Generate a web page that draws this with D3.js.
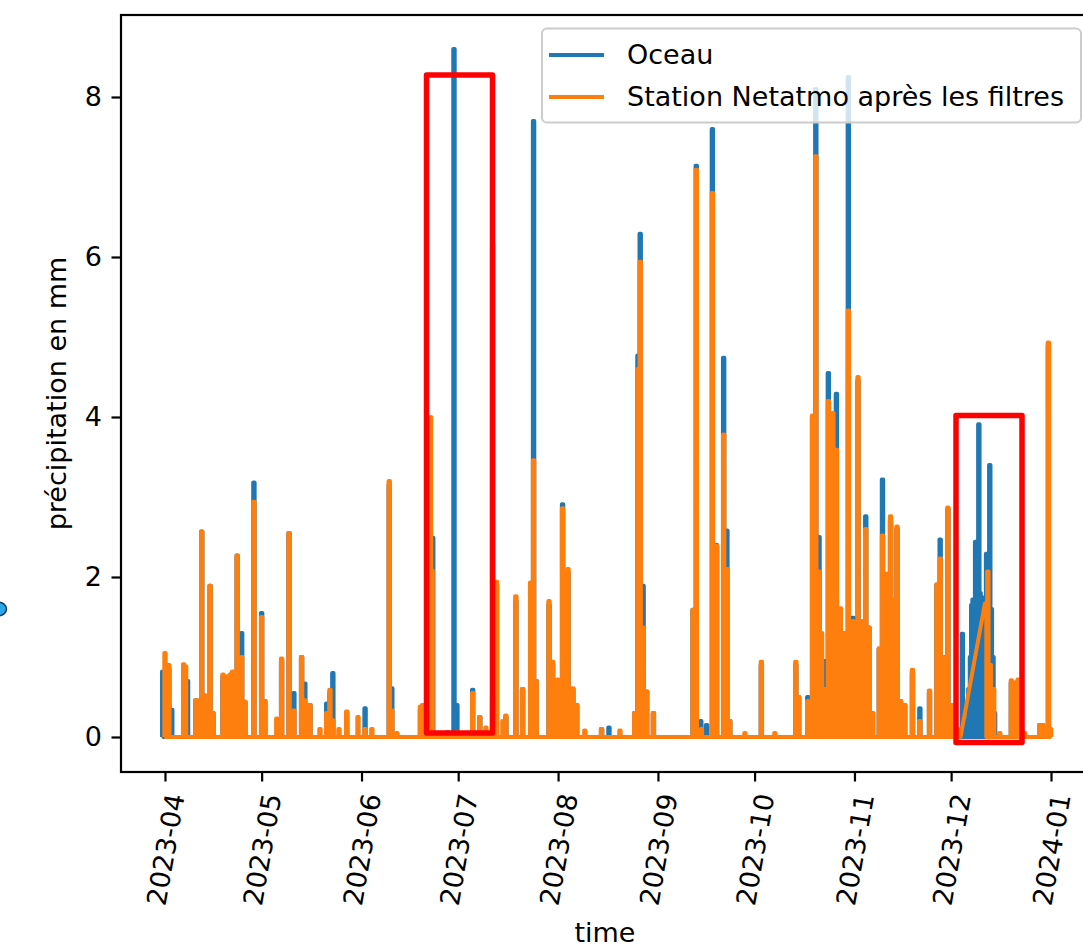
<!DOCTYPE html>
<html lang="fr">
<head>
  <meta charset="UTF-8">
  <title>Oceau vs Netatmo</title>
  <script src="https://d3js.org/d3.v7.min.js"></script>
  <style>
    body { margin: 0; background: #fff; }
    svg { display: block; font-family: "DejaVu Sans", sans-serif; }
  </style>
</head>
<body>
  <div id="root"></div>
  <script>
    // données : [jour depuis 2023-04-01, précipitation en mm]
    // entre deux événements la série retombe à 0
    const oceau = [
      [-0.7,0.82],[0.0,0.8],[1.2,0.85],[2.1,0.34],[5.8,0.9],[7.0,0.7],[9.6,0.46],[11.4,2.57],[12.4,0.52],
      [14.0,1.89],[14.9,0.3],[18.0,0.75],[19.2,0.75],[20.4,0.78],[21.0,0.8],[22.4,2.27],[23.8,1.3],[24.8,0.44],
      [27.6,3.18],[30.0,1.55],[31.0,0.45],[36.2,0.95],[38.5,2.55],[40.0,0.55],[42.4,1.0],[43.4,0.67],[45.0,0.4],
      [50.2,0.42],[51.2,0.55],[52.1,0.8],[56.4,0.3],[62.1,0.36],[69.6,3.15],[70.4,0.61],[79.3,0.35],[80.6,0.38],
      [82.4,1.0],[83.1,2.49],[87.8,0.06],[89.7,8.6],[90.6,0.4],[95.5,0.59],[97.7,0.25],[101.7,0.5],[102.9,1.9],
      [105.8,0.25],[108.9,1.7],[111.0,0.6],[113.5,1.9],[114.4,7.7],[115.2,0.7],[119.2,1.65],[120.3,0.9],
      [123.4,2.91],[125.1,2.05],[126.6,0.6],[127.8,0.4],[135.5,0.1],[137.8,0.12],[145.8,0.3],[146.8,4.77],
      [147.5,6.29],[148.4,1.89],[149.5,0.57],[151.6,0.3],[163.9,1.59],[164.9,7.14],[166.3,0.2],[168.1,0.15],
      [169.9,7.6],[171.2,2.4],[173.4,4.74],[174.4,2.58],[175.3,0.2],[185.1,0.9],[195.8,0.9],[196.7,0.5],
      [199.5,0.5],[201.0,4.0],[202.0,8.1],[203.0,2.5],[204.7,0.95],[205.9,4.55],[207.3,4.0],[208.4,4.29],
      [209.6,1.6],[210.7,1.3],[212.1,8.25],[213.5,1.49],[215.1,4.45],[216.3,1.4],[217.5,2.76],[218.5,1.37],
      [221.7,1.1],[222.7,3.22],[224.0,2.0],[225.2,2.7],[226.2,1.7],[227.2,2.6],[228.3,0.45],[229.6,0.4],
      [232.0,0.8],[234.3,0.36],[237.3,0.55],[239.6,1.9],[240.6,2.47],[241.6,1.0],[243.0,2.85],
      [247.5,1.29],[248.5,0.2],[249.5,0.6],[250.0,1.0],[250.4,1.65],[250.8,1.72],[251.2,1.7],[251.6,2.44],
      [252.1,1.75],[252.6,3.91],[253.0,1.8],[253.4,1.75],[253.8,1.7],[254.2,1.5],[254.6,1.4],[255.0,2.29],
      [255.5,2.0],[256.0,3.4],[256.5,1.6],[257.0,1.0],[257.5,0.3],[262.7,0.68],[263.7,0.65],[264.8,0.7],
      [271.5,0.15],[272.4,0.15],[274.2,4.9]
    ]
    const netatmo = [
      [0.0,1.05],[1.2,0.9],[5.8,0.91],[6.4,0.88],[9.6,0.46],[10.2,0.46],[11.4,2.57],[12.4,0.52],[14.0,1.89],
      [14.9,0.3],[18.0,0.78],[18.6,0.72],[19.2,0.76],[19.8,0.74],[20.4,0.78],[21.0,0.82],[22.4,2.27],[23.8,1.0],
      [24.8,0.44],[27.6,2.94],[30.0,1.5],[31.0,0.45],[34.7,0.23],[36.2,0.98],[38.5,2.55],[40.0,0.33],[42.4,1.0],
      [43.4,0.46],[45.0,0.4],[48.1,0.1],[50.2,0.3],[51.2,0.59],[52.1,0.21],[54.0,0.1],[56.4,0.32],[59.9,0.25],
      [62.1,0.1],[64.2,0.1],[69.6,3.2],[70.4,0.33],[72.0,0.05],[79.3,0.38],[79.9,0.4],[80.6,0.4],[82.4,4.0],
      [82.9,2.08],[86.0,0.05],[90.6,0.06],[95.5,0.55],[97.7,0.25],[99.6,0.12],[101.7,6.15],[102.9,1.94],
      [104.9,0.2],[105.8,0.27],[108.9,1.76],[111.0,0.6],[113.5,1.93],[114.4,3.46],[115.2,0.7],[119.2,1.7],
      [120.3,0.94],[121.9,0.72],[123.4,2.86],[125.1,2.1],[126.6,0.61],[127.8,0.4],[130.3,0.08],[135.5,0.1],
      [141.2,0.08],[145.8,0.3],[146.8,4.6],[147.5,5.94],[148.4,1.37],[149.5,0.57],[151.6,0.3],[163.9,1.59],
      [164.9,7.09],[166.5,0.1],[169.9,6.8],[171.2,2.39],[173.4,3.78],[174.5,2.1],[175.3,0.2],[180.0,0.05],
      [185.1,0.94],[189.3,0.05],[195.8,0.94],[196.7,0.5],[199.5,0.45],[201.0,4.02],[202.0,7.26],[203.0,2.07],
      [203.8,1.3],[204.7,0.6],[205.9,4.2],[207.3,4.05],[208.4,3.59],[209.6,1.61],[210.7,1.3],[212.1,5.33],
      [213.5,1.45],[215.1,4.5],[216.3,1.45],[217.5,2.6],[218.5,1.37],[219.7,0.3],[221.7,1.11],[222.7,2.52],
      [224.0,2.04],[225.2,2.76],[226.2,1.72],[227.2,2.63],[228.3,0.45],[229.6,0.4],[232.0,0.84],[234.3,0.2],
      [237.3,0.58],[239.6,1.91],[240.6,2.23],[241.6,1.0],[243.0,2.87],[244.2,0.4],[246.0,0.1],[246.7,0],
      [254.7,1.67],[255.4,2.07],[256.2,0.9],[257.2,0.6],[259.1,0.05],[262.7,0.71],[263.7,0.68],[264.8,0.72],
      [266.8,0.05],[271.5,0.15],[272.4,0.15],[274.2,4.93],[274.9,0.1]
    ]
    // trou de données de la station (ligne droite)
    const netatmoGaps = [[246.7, 254.7]]

    const yTicks = [0, 2, 4, 6, 8]
    const xTicks = ['2023-04','2023-05','2023-06','2023-07','2023-08','2023-09','2023-10','2023-11','2023-12','2024-01']
    const seriesNames = ['Oceau', 'Station Netatmo après les filtres']
    const colors = ['#1f77b4', '#ff7f0e']

    const W = 1083, H = 948
    const mLeft = 121, mRight = 1096, mTop = 15, mBottom = 772
    const fs = 27

    const svg = d3.select('#root').append('svg')
      .attr('width', W).attr('height', H)

    const t0 = Date.UTC(2023, 3, 1)
    const toDate = d => new Date(t0 + d * 864e5)

    const x = d3.scaleUtc()
      .domain([new Date(Date.UTC(2023, 3, 1)), new Date(Date.UTC(2024, 0, 1))])
      .range([165, 1051])
    const y = d3.scaleLinear().domain([-0.4375, 9.025]).range([mBottom, mTop])

    // chaque événement = montée verticale, petit plateau, retour à 0 (sauf dans un trou)
    function build(ev, gaps) {
      const inGap = (a, b) => gaps.some(g => a >= g[0] - 1e-6 && b <= g[1] + 1e-6)
      const h = 0.22
      const pts = []
      ev.forEach((e, i) => {
        const prev = ev[i - 1], next = ev[i + 1]
        if (!(prev && inGap(prev[0], e[0]))) pts.push([e[0] - h, 0])
        pts.push([e[0] - h, e[1]], [e[0] + h, e[1]])
        if (!(next && inGap(e[0], next[0]))) pts.push([e[0] + h, 0])
      })
      return pts
    }

    svg.append('defs').append('clipPath').attr('id', 'clip')
      .append('rect').attr('x', mLeft).attr('y', mTop)
      .attr('width', mRight - mLeft).attr('height', mBottom - mTop)

    const line = d3.line().x(d => x(toDate(d[0]))).y(d => y(d[1]))

    const plot = svg.append('g').attr('clip-path', 'url(#clip)')
    ;[build(oceau, []), build(netatmo, netatmoGaps)].forEach((s, i) => {
      plot.append('path')
        .attr('d', line(s))
        .attr('fill', 'none')
        .attr('stroke', colors[i])
        .attr('stroke-width', 4)
        .attr('stroke-linejoin', 'round')
    })

    // axes
    const yAxis = svg.append('g').attr('transform', `translate(${mLeft},0)`)
      .call(d3.axisLeft(y).tickValues(yTicks).tickSize(9.5).tickPadding(9.5))
    yAxis.select('.domain').remove()
    yAxis.selectAll('line').attr('stroke', '#000').attr('stroke-width', 2.2)
    yAxis.selectAll('text').attr('font-size', fs).attr('fill', '#000')
      .attr('font-family', '"DejaVu Sans", sans-serif')

    const xAxis = svg.append('g').attr('transform', `translate(0,${mBottom})`)
      .call(d3.axisBottom(x).tickValues(xTicks.map(s => d3.utcParse('%Y-%m')(s)))
        .tickFormat(d3.utcFormat('%Y-%m')).tickSize(9.5))
    xAxis.select('.domain').remove()
    xAxis.selectAll('line').attr('stroke', '#000').attr('stroke-width', 2.2)
    xAxis.selectAll('text')
      .attr('font-size', fs).attr('fill', '#000')
      .attr('font-family', '"DejaVu Sans", sans-serif')
      .attr('text-anchor', 'end')
      .attr('x', 0).attr('y', 0).attr('dy', '0.35em')
      .attr('transform', 'translate(10,22) rotate(-80)')

    // cadre
    svg.append('rect')
      .attr('x', mLeft).attr('y', mTop)
      .attr('width', mRight - mLeft).attr('height', mBottom - mTop)
      .attr('fill', 'none').attr('stroke', '#000').attr('stroke-width', 2.2)

    svg.append('text')
      .attr('transform', `translate(66,${(mTop + mBottom) / 2}) rotate(-90)`)
      .attr('text-anchor', 'middle').attr('font-size', fs).attr('fill', '#000')
      .text('précipitation en mm')
    svg.append('text')
      .attr('x', 605).attr('y', 942)
      .attr('text-anchor', 'middle').attr('font-size', fs).attr('fill', '#000')
      .text('time')

    // légende
    const lg = svg.append('g')
    lg.append('rect')
      .attr('x', 542).attr('y', 28.5).attr('width', 539).attr('height', 94)
      .attr('rx', 5).attr('fill', 'rgba(255,255,255,0.8)')
      .attr('stroke', '#cccccc').attr('stroke-width', 2)
    seriesNames.forEach((n, i) => {
      const cy = 55 + i * 42
      lg.append('line').attr('x1', 549).attr('x2', 604).attr('y1', cy).attr('y2', cy)
        .attr('stroke', colors[i]).attr('stroke-width', 4)
      lg.append('text').attr('x', 627).attr('y', cy).attr('dy', '0.35em')
        .attr('font-size', fs).attr('fill', '#000').text(n)
    })

    // encadrés rouges ajoutés sur la capture
    const boxes = [[426.5, 75, 492.5, 733], [956, 415.5, 1022, 742.5]]
    svg.append('g').selectAll('rect').data(boxes).enter().append('rect')
      .attr('x', d => d[0]).attr('y', d => d[1])
      .attr('width', d => d[2] - d[0]).attr('height', d => d[3] - d[1])
      .attr('fill', 'none').attr('stroke', '#ff0000').attr('stroke-width', 5.5)
      .attr('stroke-linejoin', 'round')

    // morceau d'icône coupé au bord gauche
    svg.append('ellipse').attr('cx', -2).attr('cy', 609).attr('rx', 8.5).attr('ry', 7)
      .attr('fill', '#2aa7e6').attr('stroke', '#123a5c').attr('stroke-width', 1.5)
  </script>
</body>
</html>
